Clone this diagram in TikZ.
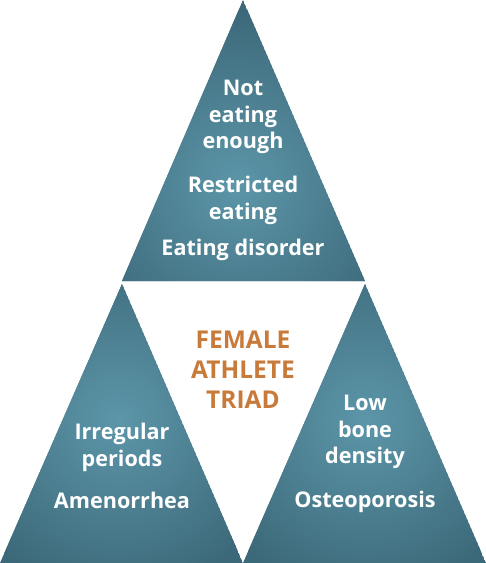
\documentclass[tikz,border=0pt]{standalone}
\usepackage{fontspec}
\setmainfont{Open Sans}
\usetikzlibrary{calc}

\definecolor{triinner}{RGB}{92,150,169}
\definecolor{triouter}{RGB}{60,105,121}
\definecolor{triadorange}{RGB}{200,122,58}

\begin{document}
\begin{tikzpicture}[x=1pt, y=-1pt,
    label/.style={text=white, font=\fontsize{21.6}{26.8}\selectfont\bfseries, align=center, inner sep=0pt},
    title/.style={text=triadorange, font=\fontsize{24.5}{30}\selectfont\bfseries, align=center, inner sep=0pt}]
    \useasboundingbox (0,0) rectangle (486,563);

    %%%% corners %%%%
    \coordinate (T1) at (243,0);
    \coordinate (T2) at (122,281);
    \coordinate (T3) at (365,281);

    \coordinate (L1) at (122,284);
    \coordinate (L2) at (0,563);
    \coordinate (L3) at (243,563);

    \coordinate (R1) at (365,284);
    \coordinate (R2) at (243,563);
    \coordinate (R3) at (486,563);

    %%%% top triangle %%%%
    \begin{scope}
    \clip (T1) -- (T2) -- (T3) -- cycle;
    \fill[triouter] (T1) -- (T2) -- (T3) -- cycle;
    \shade[inner color=triinner, outer color=triouter] (238,185) circle (175);
    \end{scope}

    %%%% left triangle %%%%
    \begin{scope}
    \clip (L1) -- (L2) -- (L3) -- cycle;
    \fill[triouter] (L1) -- (L2) -- (L3) -- cycle;
    \shade[inner color=triinner, outer color=triouter] (118,420) circle (175);
    \end{scope}

    %%%% right triangle %%%%
    \begin{scope}
    \clip (R1) -- (R2) -- (R3) -- cycle;
    \fill[triouter] (R1) -- (R2) -- (R3) -- cycle;
    \shade[inner color=triinner, outer color=triouter] (365,420) circle (175);
    \end{scope}

    %%%% texts %%%%
    \node[label] (notenough) at (243,117) {Not\\eating\\enough};
    \node[label] (restricted) at (243,200) {Restricted\\eating};
    \node[label] (disorder) at (243,250) {Eating disorder};

    \node[title] (triad) at (243,370) {FEMALE\\ATHLETE\\TRIAD};

    \node[label] (irregular) at (122,447) {Irregular\\periods};
    \node[label] (amenorrhea) at (122,500) {Amenorrhea};

    \node[label] (density) at (365,432) {Low\\bone\\density};
    \node[label] (osteo) at (365,502) {Osteoporosis};

\end{tikzpicture}
\end{document}
